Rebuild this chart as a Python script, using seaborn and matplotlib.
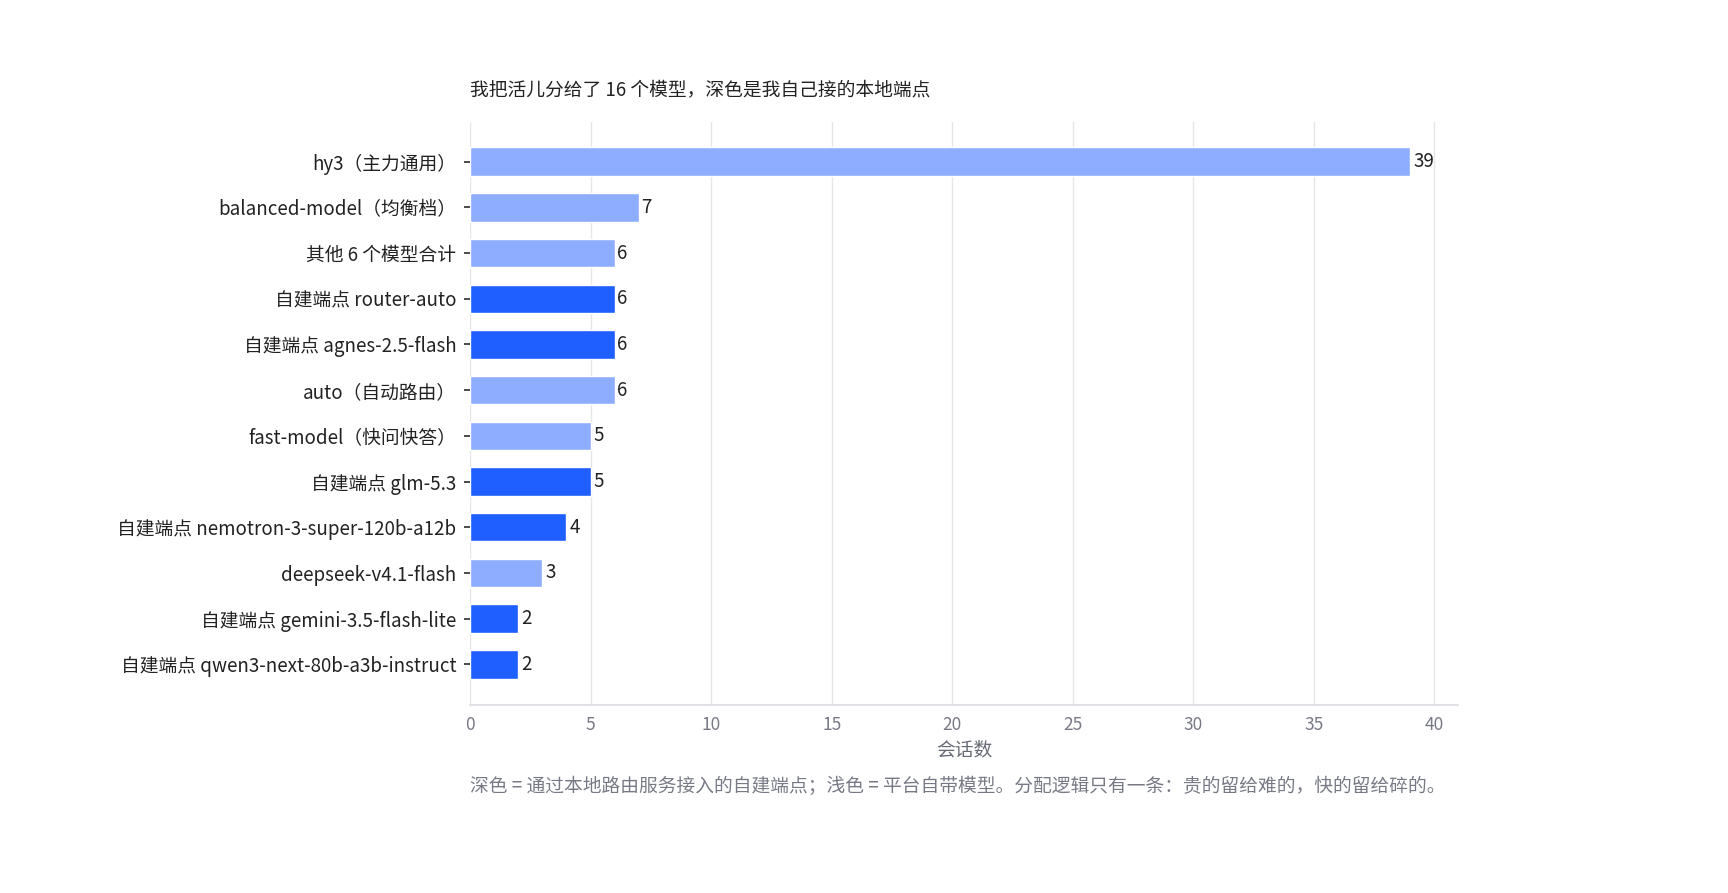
import matplotlib
matplotlib.use("Agg")
import matplotlib.pyplot as plt
import seaborn as sns
import pandas as pd

models = ["hy3（主力通用）", "balanced-model（均衡档）", "其他 6 个模型合计", "自建端点 router-auto",
          "自建端点 agnes-2.5-flash", "auto（自动路由）", "fast-model（快问快答）", "自建端点 glm-5.3",
          "自建端点 nemotron-3-super-120b-a12b", "deepseek-v4.1-flash", "自建端点 gemini-3.5-flash-lite",
          "自建端点 qwen3-next-80b-a3b-instruct"]
sessions = [39, 7, 6, 6, 6, 6, 5, 5, 4, 3, 2, 2]
self_hosted = [False, False, False, True, True, False, False, True, True, False, True, True]

df = pd.DataFrame({"model": models, "sessions": sessions,
                   "kind": ["self" if s else "platform" for s in self_hosted]})

sns.set_theme(style="white")
plt.rcParams['font.family'] = ['Noto Sans CJK SC', 'DejaVu Sans']

fig = plt.figure(figsize=(17.28, 8.93), dpi=100)
ax = fig.add_axes([0.272, 0.211, 0.572, 0.652])
sns.barplot(data=df, y="model", x="sessions", hue="kind", dodge=False,
            palette={"self": "#1f5eff", "platform": "#8fadff"}, width=0.62,
            saturation=1, legend=False, ax=ax)
for c in ax.containers:
    labels = [f"{int(v)}" if v > 0 else "" for v in c.datavalues]
    ax.bar_label(c, labels=labels, padding=2, fontsize=13.5, color="#222222")

ax.set_xlim(0, 41)
ax.set_ylim(len(models) - 1 + 0.88, -0.86)
ax.set_xticks(range(0, 41, 5))
ax.grid(axis="x", color="#e6e6ea", linewidth=1)
ax.set_axisbelow(True)
for s in ["top", "right", "left"]:
    ax.spines[s].set_visible(False)
ax.spines["bottom"].set_color("#dddde3")
ax.tick_params(axis="y", length=4, color="#333333", labelsize=13.5, labelcolor="#222222", pad=6, left=True)
ax.tick_params(axis="x", length=0, labelsize=12.5, labelcolor="#777a85", pad=8)
ax.set_ylabel("")
ax.set_xlabel("会话数", fontsize=13.5, color="#666a75", labelpad=4)

fig.text(0.272, 0.893, "我把活儿分给了 16 个模型，深色是我自己接的本地端点", fontsize=13.5, color="#222222")
fig.text(0.272, 0.113, "深色 = 通过本地路由服务接入的自建端点；浅色 = 平台自带模型。分配逻辑只有一条：贵的留给难的，快的留给碎的。",
         fontsize=13.5, color="#777a85")

fig.savefig("out.png", dpi=100)
